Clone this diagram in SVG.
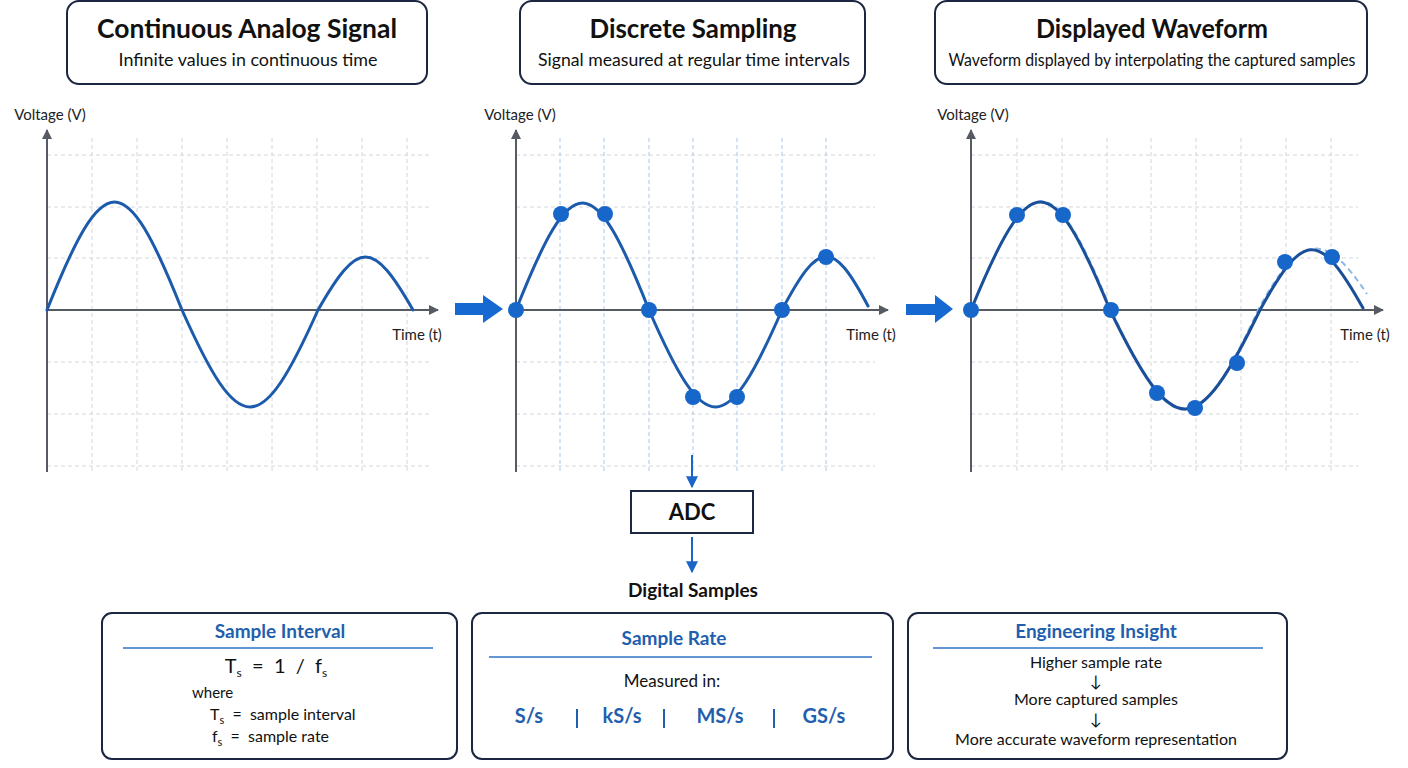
<svg xmlns="http://www.w3.org/2000/svg" width="1408" height="768" viewBox="0 0 1408 768">
<defs>
<marker id="axhead" viewBox="0 0 10 10" refX="9" refY="5" markerWidth="10" markerHeight="10" markerUnits="userSpaceOnUse" orient="auto"><path d="M0,0 L10,5 L0,10 Z" fill="#555a63"/></marker>
<marker id="bluehead" viewBox="0 0 10 10" refX="9" refY="5" markerWidth="12" markerHeight="12" markerUnits="userSpaceOnUse" orient="auto"><path d="M0,0 L10,5 L0,10 Z" fill="#1a66c8"/></marker>
<style>
.box{fill:#fff;stroke:#1c2541;stroke-width:2}
.title{font-family:Lato,"Liberation Sans",sans-serif;font-weight:700;font-size:26px;fill:#111;text-anchor:middle}
.sub{font-family:Lato,"Liberation Sans",sans-serif;font-size:18px;fill:#111;text-anchor:middle}
.axlbl{font-family:Lato,"Liberation Sans",sans-serif;font-size:15px;fill:#222}
.grid{stroke:#d3d6db;stroke-width:1;stroke-dasharray:4 3;fill:none}
.gridb{stroke:#a9c9ec;stroke-width:1;stroke-dasharray:4 3;fill:none}
.axis{stroke:#555a63;stroke-width:2;fill:none}
.wave{stroke:#1c5aab;stroke-width:3;fill:none;stroke-linecap:round}
.wave2{stroke:#1a4f9a;stroke-width:3;fill:none;stroke-linecap:round}
.ghost{stroke:#8dbbe8;stroke-width:2;fill:none;stroke-dasharray:6 4}
.dot{fill:#1766c9}
.big{fill:#1769d2}
.conn{stroke:#1a66c8;stroke-width:2;fill:none}
.btitle{font-family:Lato,"Liberation Sans",sans-serif;font-weight:700;font-size:19px;fill:#1f5fae;text-anchor:middle}
.bline{stroke:#2f74c4;stroke-width:1.5}
.btxt{font-family:Lato,"Liberation Sans",sans-serif;font-size:16px;fill:#111}
.unit{font-family:Lato,"Liberation Sans",sans-serif;font-weight:700;font-size:20px;fill:#1f5fae;text-anchor:middle}
.sep{stroke:#1f5fae;stroke-width:2}
</style>
</defs>
<rect width="1408" height="768" fill="#ffffff"/>

<g id="header-analog">
<rect class="box" x="67" y="1" width="360" height="83" rx="12"/>
<text class="title" x="247" y="38" textLength="300" lengthAdjust="spacingAndGlyphs">Continuous Analog Signal</text>
<text class="sub" x="248" y="66" textLength="259" lengthAdjust="spacingAndGlyphs">Infinite values in continuous time</text>
</g>
<g id="header-sampling">
<rect class="box" x="520" y="1" width="345" height="83" rx="12"/>
<text class="title" x="693" y="38" textLength="207" lengthAdjust="spacingAndGlyphs">Discrete Sampling</text>
<text class="sub" x="694" y="66" textLength="312" lengthAdjust="spacingAndGlyphs">Signal measured at regular time intervals</text>
</g>
<g id="header-displayed">
<rect class="box" x="935" y="1" width="432" height="83" rx="12"/>
<text class="title" x="1152" y="38" textLength="232" lengthAdjust="spacingAndGlyphs">Displayed Waveform</text>
<text class="sub" x="1152" y="66" textLength="407" lengthAdjust="spacingAndGlyphs">Waveform displayed by interpolating the captured samples</text>
</g>

<g id="plot-analog">
<path class="grid" d="M47,155H432M47,207H432M47,258H432M47,362H432M47,414H432M47,466H432"/>
<path class="grid" d="M92,138V472M137,138V472M182,138V472M227,138V472M272,138V472M317,138V472M362,138V472M407,138V472"/>
<line class="axis" x1="47" y1="472" x2="47" y2="130" marker-end="url(#axhead)"/>
<line class="axis" x1="47" y1="310" x2="438" y2="310" marker-end="url(#axhead)"/>
<text class="axlbl" x="50" y="120" text-anchor="middle">Voltage (V)</text>
<text class="axlbl" x="417" y="340" text-anchor="middle">Time (t)</text>
<path class="wave" d="M47,310 C104.3,166 124.7,166 182,310 C239.7,439.3 260.3,439.3 318,310 C358.3,239.3 372.7,239.3 413,310"/>
</g>

<g id="plot-sampling">
<path class="grid" d="M516,155H875M516,207H875M516,258H875M516,362H875M516,414H875M516,466H875"/>
<path class="gridb" d="M560,138V472M604,138V472M649,138V472M693,138V472M737,138V472M782,138V472M826,138V472"/>
<line class="axis" x1="516" y1="472" x2="516" y2="130" marker-end="url(#axhead)"/>
<line class="axis" x1="516" y1="310" x2="888" y2="310" marker-end="url(#axhead)"/>
<text class="axlbl" x="520" y="120" text-anchor="middle">Voltage (V)</text>
<text class="axlbl" x="871" y="340" text-anchor="middle">Time (t)</text>
<path class="wave" d="M516,310 C572.4,167.3 592.6,167.3 649,310 C705.4,439.3 725.6,439.3 782,310 C819.3,239.3 832.7,239.3 868,306"/>
<circle class="dot" cx="516" cy="310" r="8"/>
<circle class="dot" cx="561" cy="214" r="8"/>
<circle class="dot" cx="605" cy="214" r="8"/>
<circle class="dot" cx="649" cy="310" r="8"/>
<circle class="dot" cx="693" cy="397" r="8"/>
<circle class="dot" cx="737" cy="397" r="8"/>
<circle class="dot" cx="782" cy="310" r="8"/>
<circle class="dot" cx="826" cy="257" r="8"/>
</g>

<g id="plot-displayed">
<path class="grid" d="M971,155H1358M971,207H1358M971,258H1358M971,362H1358M971,414H1358M971,466H1358"/>
<path class="grid" d="M1017,138V472M1062,138V472M1107,138V472M1151,138V472M1196,138V472M1241,138V472M1286,138V472M1331,138V472"/>
<line class="axis" x1="971" y1="472" x2="971" y2="130" marker-end="url(#axhead)"/>
<line class="axis" x1="971" y1="310" x2="1383" y2="310" marker-end="url(#axhead)"/>
<text class="axlbl" x="973" y="120" text-anchor="middle">Voltage (V)</text>
<text class="axlbl" x="1365" y="340" text-anchor="middle">Time (t)</text>
<path class="ghost" d="M971,310 C1030,165 1052,165 1111,310 C1173,443 1197,443 1258,310 C1301,230 1326,232 1367,294"/>
<path class="wave2" d="M971,310 C1030,166 1051,166 1110,310 C1173.7,442 1196.3,442 1260,310 C1303.7,230 1319.3,230 1363,308"/>
<circle class="dot" cx="971" cy="310" r="8"/>
<circle class="dot" cx="1017" cy="215" r="8"/>
<circle class="dot" cx="1063" cy="215" r="8"/>
<circle class="dot" cx="1111" cy="310" r="8"/>
<circle class="dot" cx="1157" cy="393" r="8"/>
<circle class="dot" cx="1195" cy="408" r="8"/>
<circle class="dot" cx="1237" cy="363" r="8"/>
<circle class="dot" cx="1285" cy="262" r="8"/>
<circle class="dot" cx="1332" cy="257" r="8"/>
</g>

<g id="adc">
<rect x="631" y="491" width="122" height="42" fill="#fff" stroke="#1c2541" stroke-width="2"/>
<text x="692" y="520" font-family="Lato, 'Liberation Sans', sans-serif" font-weight="700" font-size="22" fill="#111" text-anchor="middle">ADC</text>
</g>
<g id="digital-samples">
<text x="693" y="597" font-family="Lato, 'Liberation Sans', sans-serif" font-weight="700" font-size="19" fill="#111" text-anchor="middle">Digital Samples</text>
</g>

<g id="connectors">
<path class="big" d="M455,303 H483 V295 L503,309 L483,323 V315 H455 Z"/>
<path class="big" d="M906,304 H935 V295 L953,309 L935,323 V315 H906 Z"/>
<line class="conn" x1="692" y1="455" x2="692" y2="487" marker-end="url(#bluehead)"/>
<line class="conn" x1="692" y1="537" x2="692" y2="572" marker-end="url(#bluehead)"/>
</g>

<g id="card-interval">
<rect class="box" x="102" y="613" width="355" height="146" rx="10"/>
<text class="btitle" x="280" y="638">Sample Interval</text>
<line class="bline" x1="123" y1="648" x2="433" y2="648"/>
<text class="btxt" x="276" y="673" style="font-size:20px" text-anchor="middle" xml:space="preserve">T<tspan style="font-size:12px" dy="4">s</tspan><tspan dy="-4">  =  1  /  f</tspan><tspan style="font-size:12px" dy="4">s</tspan></text>
<text class="btxt" x="192" y="698" style="font-size:15px">where</text>
<text class="btxt" x="210" y="720" xml:space="preserve">T<tspan style="font-size:11px" dy="4">s</tspan><tspan dy="-4">  =  sample interval</tspan></text>
<text class="btxt" x="212" y="742" xml:space="preserve">f<tspan style="font-size:11px" dy="4">s</tspan><tspan dy="-4">  =  sample rate</tspan></text>
</g>

<g id="card-rate">
<rect class="box" x="472" y="613" width="421" height="146" rx="10"/>
<text class="btitle" x="674" y="645">Sample Rate</text>
<line class="bline" x1="489" y1="657" x2="872" y2="657"/>
<text class="btxt" x="672" y="687" style="font-size:17px" text-anchor="middle">Measured in:</text>
<text class="unit" x="529" y="723">S/s</text>
<line class="sep" x1="577" y1="709" x2="577" y2="728"/>
<text class="unit" x="622" y="723">kS/s</text>
<line class="sep" x1="664" y1="709" x2="664" y2="728"/>
<text class="unit" x="720" y="723">MS/s</text>
<line class="sep" x1="774" y1="709" x2="774" y2="728"/>
<text class="unit" x="824" y="723">GS/s</text>
</g>

<g id="card-insight">
<rect class="box" x="908" y="613" width="379" height="146" rx="10"/>
<text class="btitle" x="1096" y="638">Engineering Insight</text>
<line class="bline" x1="933" y1="648" x2="1263" y2="648"/>
<text class="btxt" x="1096" y="668" text-anchor="middle">Higher sample rate</text>
<text class="btxt" x="1096" y="687" text-anchor="middle">↓</text>
<text class="btxt" x="1096" y="705" text-anchor="middle">More captured samples</text>
<text class="btxt" x="1096" y="725" text-anchor="middle">↓</text>
<text class="btxt" x="1096" y="745" text-anchor="middle">More accurate waveform representation</text>
</g>
</svg>
